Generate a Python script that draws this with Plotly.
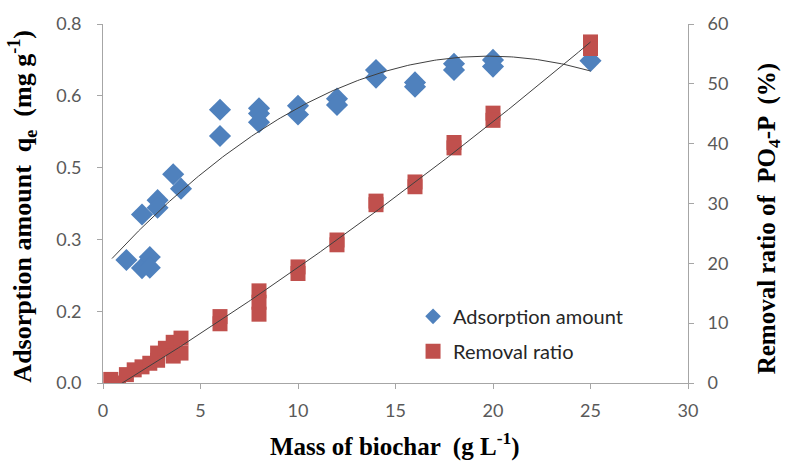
import numpy as np
import plotly.graph_objects as go

# ---- data ----
mass_ads = [1.2, 2.0, 2.4, 2.4, 2.0, 2.8, 2.8, 3.6, 4.0, 6, 6, 8, 8, 8, 10, 10,
            12, 12, 14, 14, 16, 16, 18, 18, 20, 20, 25]
ads_amount = [0.257, 0.240, 0.263, 0.241, 0.352, 0.382, 0.366, 0.436, 0.406,
              0.571, 0.516, 0.574, 0.563, 0.545, 0.579, 0.561, 0.594, 0.581,
              0.654, 0.638, 0.628, 0.619, 0.667, 0.654, 0.675, 0.661, 0.673]

mass_rem = [0.4, 0.8, 1.2, 1.6, 2.0, 2.4, 2.8, 2.8, 3.2, 3.6, 3.6, 4.0, 4.0,
            6, 6, 8, 8, 8, 10, 10, 12, 12, 14, 14, 16, 16, 18, 18, 20, 20, 25, 25]
removal_ratio = [0.6, 0.0, 1.4, 2.2, 2.7, 3.3, 3.8, 5.0, 5.8, 6.8, 4.5, 7.5, 5.0,
                 11.1, 9.9, 15.4, 13.5, 11.5, 19.4, 18.3, 23.9, 23.1, 30.4, 29.8,
                 33.6, 32.8, 40.2, 39.3, 45.1, 43.9, 57.0, 55.9]

# polynomial trend lines (highest power first), as drawn in the reference
ads_trend_coef = [-0.001135, 0.04486, 0.2396]
ads_trend_range = [0.46, 25]
rem_trend_coef = [0.01536, 1.975, -1.99]
rem_trend_range = [0.4, 25]

x_ticks = [0, 5, 10, 15, 20, 25, 30]
y_left_tickvals = [0, 0.15, 0.30, 0.45, 0.60, 0.75]
y_left_ticktext = ["0.0", "0.2", "0.3", "0.5", "0.6", "0.8"]
y_right_ticks = [0, 10, 20, 30, 40, 50, 60]

BLUE = "#4F81BD"
RED = "#C0504D"
AXIS = "#A6A6A6"
TICKFONT = dict(family="Lato, Carlito, sans-serif", size=18, color="#595959")
TITLEFONT = dict(family="Liberation Serif, Times New Roman, serif", size=26, color="#000000")
RTITLEFONT = dict(family="Liberation Serif, Times New Roman, serif", size=25, color="#000000")
XTITLEFONT = dict(family="Liberation Serif, Times New Roman, serif", size=25, color="#000000")

fig = go.Figure()

fig.add_trace(go.Scatter(
    x=mass_ads, y=ads_amount, mode="markers", name="Adsorption amount",
    marker=dict(symbol="diamond", size=17, color=BLUE), showlegend=False,
    yaxis="y"))
fig.add_trace(go.Scatter(
    x=mass_rem, y=removal_ratio, mode="markers", name="Removal ratio",
    marker=dict(symbol="square", size=15, color=RED), showlegend=False,
    yaxis="y2"))

tx = np.linspace(ads_trend_range[0], ads_trend_range[1], 200)
fig.add_trace(go.Scatter(x=tx, y=np.polyval(ads_trend_coef, tx), mode="lines",
                         line=dict(color="#404040", width=1), showlegend=False,
                         hoverinfo="skip", yaxis="y"))
tx2 = np.linspace(rem_trend_range[0], rem_trend_range[1], 200)
fig.add_trace(go.Scatter(x=tx2, y=np.polyval(rem_trend_coef, tx2), mode="lines",
                         line=dict(color="#404040", width=1), showlegend=False,
                         hoverinfo="skip", yaxis="y2"))

# legend entries
fig.add_trace(go.Scatter(x=[None], y=[None], mode="markers", name="Adsorption amount",
                         marker=dict(symbol="diamond", size=12, color=BLUE),
                         legendgroup="a", yaxis="y"))
fig.add_trace(go.Scatter(x=[None], y=[None], mode="markers", name="Removal ratio",
                         marker=dict(symbol="square", size=15, color=RED),
                         legendgroup="b", yaxis="y2"))

axis_common = dict(showline=True, linecolor=AXIS, linewidth=1, ticks="outside",
                   ticklen=5, tickcolor=AXIS, showgrid=False, zeroline=False,
                   tickfont=TICKFONT)

fig.update_layout(
    width=787, height=470,
    margin=dict(l=103, r=99, t=14, b=87),
    paper_bgcolor="white", plot_bgcolor="white",
    xaxis=dict(range=[0, 30], tickvals=x_ticks, ticklabelstandoff=6, **axis_common),
    yaxis=dict(range=[0, 0.75], tickvals=y_left_tickvals, ticktext=y_left_ticktext,
               ticklabelstandoff=12, **axis_common),
    yaxis2=dict(range=[0, 60], tickvals=y_right_ticks, overlaying="y", side="right",
                ticklabelstandoff=10, **axis_common),
    legend=dict(x=0.53, y=0.24, xanchor="left", yanchor="top",
                font=dict(family="Lato, Carlito, sans-serif", size=20, color="#262626"),
                bgcolor="rgba(0,0,0,0)", tracegroupgap=6),
    annotations=[
        dict(text="<b>Mass of biochar  (g L<sup>-1</sup>)</b>", xref="paper", yref="paper",
             x=0.499, y=-0.17, xanchor="center", yanchor="middle", showarrow=False,
             font=XTITLEFONT),
        dict(text="<b>Adsorption amount  q<sub>e</sub>  (mg g<sup>-1</sup>)</b>",
             xref="paper", yref="paper", x=-0.1385, y=0.494, xanchor="center",
             yanchor="middle", showarrow=False, textangle=-90, font=TITLEFONT),
        dict(text="<b>Removal ratio of  PO<sub>4</sub>-P  (%)</b>",
             xref="paper", yref="paper", x=1.138, y=0.458, xanchor="center",
             yanchor="middle", showarrow=False, textangle=-90, font=RTITLEFONT),
    ],
)

fig.write_html("out.html")
